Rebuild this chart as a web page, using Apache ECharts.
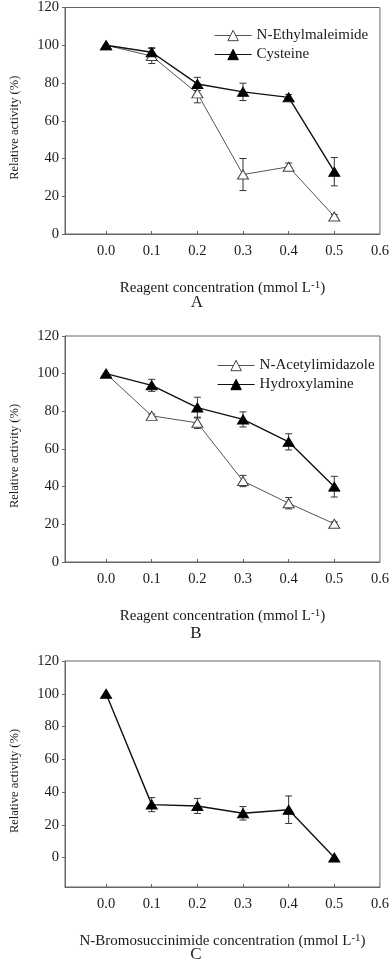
<!DOCTYPE html>
<html>
<head>
<meta charset="utf-8">
<script src="https://cdn.jsdelivr.net/npm/echarts@6/dist/echarts.min.js"></script>
<style>
  html, body { margin: 0; padding: 0; background: #fff; }
  #chart { width: 392px; height: 968px; }
</style>
</head>
<body>
<div id="chart"></div>
<script>
// reagent concentration (mmol L-1)
const conc = [0, 0.1, 0.2, 0.3, 0.4, 0.5]
const xTicks = [0, 0.1, 0.2, 0.3, 0.4, 0.5, 0.6]
const yTicks = [0, 20, 40, 60, 80, 100, 120]

// panel A
const nem = [100, 94.3, 74.5, 31.5, 35.6, 9.3]
const nemErr = [0, 4, 5, 8.5, 2, 1]
const cys = [100, 96.3, 79.5, 75.3, 72.4, 33]
const cysErr = [0, 2.4, 3.5, 4.6, 1.5, 7.5]

// panel B
const nai = [100, 77.6, 73.9, 43, 31.2, 20.3]
const naiErr = [0, 1, 3, 3, 3, 1]
const hyd = [100, 93.8, 82, 75.7, 63.8, 40]
const hydErr = [0, 3.2, 5.5, 4, 4.3, 5.5]

// panel C
const nbs = [100, 32.3, 31.5, 27, 29.2, 0]
const nbsErr = [0, 4.3, 4.6, 4.1, 8.4, 0]

const FONT = "'Liberation Serif', 'Times New Roman', serif"
const AXIS_GRAY = '#666'
const TEXT = '#1a1a1a'

const chart = echarts.init(document.getElementById('chart'), null, { renderer: 'canvas' })

function pairs(ys) {
  return conc.map((x, i) => [x, ys[i]])
}

function errData(ys, errs) {
  return conc.map((x, i) => [x, ys[i], errs[i]])
}

function errSeries(idx, ys, errs) {
  return {
    type: 'custom',
    xAxisIndex: idx,
    yAxisIndex: idx,
    silent: true,
    z: 1,
    data: errData(ys, errs),
    encode: { x: 0, y: 1 },
    renderItem: (params, api) => {
      const e = api.value(2)
      if (!e) return null
      const x = api.value(0)
      const y = api.value(1)
      const top = api.coord([x, y + e])
      const bot = api.coord([x, y - e])
      const hw = 3.5
      const style = { stroke: '#333', lineWidth: 1 }
      return {
        type: 'group',
        children: [
          { type: 'line', shape: { x1: top[0], y1: top[1], x2: bot[0], y2: bot[1] }, style },
          { type: 'line', shape: { x1: top[0] - hw, y1: top[1], x2: top[0] + hw, y2: top[1] }, style },
          { type: 'line', shape: { x1: bot[0] - hw, y1: bot[1], x2: bot[0] + hw, y2: bot[1] }, style },
        ],
      }
    },
  }
}

function lineSeries(idx, name, ys, filled) {
  return {
    type: 'line',
    name,
    xAxisIndex: idx,
    yAxisIndex: idx,
    data: pairs(ys),
    symbol: 'triangle',
    symbolSize: [11, 9],
    showSymbol: true,
    z: 3,
    lineStyle: { color: filled ? '#111' : '#555', width: filled ? 1.4 : 1 },
    itemStyle: filled
      ? { color: '#000', borderColor: '#000', borderWidth: 1 }
      : { color: '#fff', borderColor: '#444', borderWidth: 1 },
    emphasis: { disabled: true },
  }
}

const xTitle = (prefix) => prefix + 'concentration (mmol L{s|-1})'

function xAxis(idx, prefix) {
  return {
    type: 'value',
    gridIndex: idx,
    min: -0.09,
    max: 0.6,
    name: xTitle(prefix),
    nameLocation: 'middle',
    nameGap: 46,
    nameTextStyle: {
      fontFamily: FONT, fontSize: 15, color: TEXT,
      rich: { s: { fontFamily: FONT, fontSize: 11, color: TEXT, verticalAlign: 'bottom', padding: [0, 0, 6, 0] } },
    },
    axisLine: { show: true, onZero: false, lineStyle: { color: AXIS_GRAY, width: 1 } },
    axisTick: { show: true, inside: true, length: 3, customValues: conc, lineStyle: { color: AXIS_GRAY } },
    axisLabel: {
      customValues: xTicks,
      formatter: (v) => v.toFixed(1),
      fontFamily: FONT, fontSize: 14.5, color: TEXT, margin: 10,
    },
    splitLine: { show: false },
  }
}

function yAxis(idx, min) {
  return {
    type: 'value',
    gridIndex: idx,
    min,
    max: 120,
    name: 'Relative activity (%)',
    nameLocation: 'middle',
    nameGap: 44,
    nameTextStyle: { fontFamily: FONT, fontSize: 12.5, color: TEXT, padding: [0, 14, 0, 0] },
    axisLine: { show: true, onZero: false, lineStyle: { color: AXIS_GRAY, width: 1 } },
    axisTick: { show: true, inside: false, length: 3, customValues: yTicks, lineStyle: { color: AXIS_GRAY } },
    axisLabel: { customValues: yTicks, fontFamily: FONT, fontSize: 14.5, color: TEXT, margin: 6 },
    splitLine: { show: false },
  }
}

function legend(names, left, top) {
  return {
    data: names,
    orient: 'vertical',
    left,
    top,
    itemWidth: 37,
    itemHeight: 13,
    itemGap: 4,
    itemStyle: { borderWidth: 1 },
    lineStyle: { width: 1.2 },
    textStyle: { fontFamily: FONT, fontSize: 15, color: TEXT },
    selectedMode: false,
  }
}

function panelLetter(text, x, y) {
  return {
    type: 'text',
    x,
    y,
    style: { text, fontFamily: FONT, fontSize: 17, fill: TEXT, textAlign: 'center', textVerticalAlign: 'middle' },
  }
}

const gridStyle = { show: true, borderColor: AXIS_GRAY, borderWidth: 1, backgroundColor: 'transparent', containLabel: false }

chart.setOption({
  animation: false,
  backgroundColor: '#fff',
  grid: [
    { ...gridStyle, left: 58, top: 6, width: 323, height: 228 },
    { ...gridStyle, left: 60, top: 336, width: 321, height: 226 },
    { ...gridStyle, left: 60, top: 661, width: 321, height: 226 },
  ],
  xAxis: [xAxis(0, 'Reagent '), xAxis(1, 'Reagent '), xAxis(2, 'N-Bromosuccinimide ')],
  yAxis: [yAxis(0, 0), yAxis(1, 0), yAxis(2, -18)],
  legend: [
    legend(['N-Ethylmaleimide', 'Cysteine'], 209, 23),
    legend(['N-Acetylimidazole', 'Hydroxylamine'], 212, 353),
  ],
  graphic: [
    panelLetter('A', 197, 303),
    panelLetter('B', 196, 634),
    panelLetter('C', 196, 955),
  ],
  series: [
    errSeries(0, nem, nemErr),
    errSeries(0, cys, cysErr),
    lineSeries(0, 'N-Ethylmaleimide', nem, false),
    lineSeries(0, 'Cysteine', cys, true),
    errSeries(1, nai, naiErr),
    errSeries(1, hyd, hydErr),
    lineSeries(1, 'N-Acetylimidazole', nai, false),
    lineSeries(1, 'Hydroxylamine', hyd, true),
    errSeries(2, nbs, nbsErr),
    lineSeries(2, 'N-Bromosuccinimide', nbs, true),
  ],
})
</script>
</body>
</html>
